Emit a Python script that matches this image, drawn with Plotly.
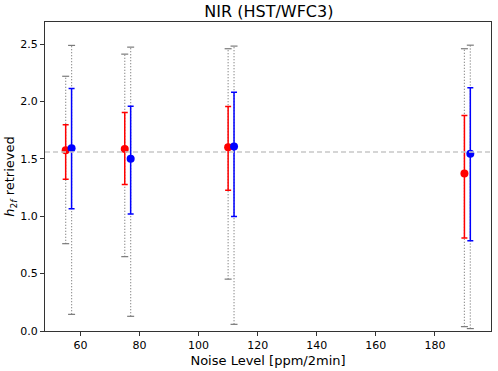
import plotly.graph_objects as go

# noise levels (ppm/2min) for the two retrieval series
x_red = [55, 75, 110, 190]
x_blue = [57, 77, 112, 192]

# retrieved h2f values
y_red = [1.575, 1.586, 1.601, 1.372]
y_blue = [1.592, 1.502, 1.608, 1.545]

# 1-sigma bounds (solid error bars)
red_hi = [1.797, 1.904, 1.956, 1.878]
red_lo = [1.323, 1.276, 1.227, 0.811]
blue_hi = [2.113, 1.959, 2.081, 2.121]
blue_lo = [1.065, 1.019, 0.998, 0.787]

# full range bounds (gray dotted bars)
red_max = [2.220, 2.413, 2.460, 2.460]
red_min = [0.761, 0.648, 0.452, 0.038]
blue_max = [2.489, 2.474, 2.483, 2.491]
blue_min = [0.145, 0.128, 0.058, 0.021]

true_value = 1.56

fig = go.Figure()

# gray dotted range lines + caps
for xs, lo, hi in [(x_red, red_min, red_max), (x_blue, blue_min, blue_max)]:
    lx, ly = [], []
    for x, a, b in zip(xs, lo, hi):
        lx += [x, x, None]
        ly += [a, b, None]
    fig.add_trace(go.Scatter(x=lx, y=ly, mode="lines",
                             line=dict(color="#7a7a7a", width=1.2, dash="1px,2px"),
                             hoverinfo="skip", showlegend=False))
    fig.add_trace(go.Scatter(x=xs + xs, y=lo + hi, mode="markers",
                             marker=dict(symbol="line-ew", size=5,
                                         line=dict(color="#7a7a7a", width=1.2)),
                             hoverinfo="skip", showlegend=False))

# dashed reference line
fig.add_hline(y=true_value, line=dict(color="#c8c8c8", width=1.3, dash="5px,3px"))

for xs, ys, lo, hi, col in [(x_red, y_red, red_lo, red_hi, "red"),
                            (x_blue, y_blue, blue_lo, blue_hi, "blue")]:
    fig.add_trace(go.Scatter(
        x=xs, y=ys, mode="markers",
        marker=dict(color=col, size=8),
        error_y=dict(type="data", symmetric=False,
                     array=[h - y for h, y in zip(hi, ys)],
                     arrayminus=[y - l for l, y in zip(lo, ys)],
                     color=col, thickness=1.5, width=3),
        showlegend=False))

fig.update_layout(
    width=498, height=371,
    margin=dict(l=45, r=6, t=22, b=38),
    paper_bgcolor="white", plot_bgcolor="white",
    font=dict(family="DejaVu Sans", size=11, color="black"),
    title=dict(text="NIR (HST/WFC3)", x=0.54, xanchor="center",
               y=0.968, yanchor="middle",
               font=dict(family="DejaVu Sans", size=16, color="black")),
)
fig.update_xaxes(range=[48, 199], tickvals=[60, 80, 100, 120, 140, 160, 180],
                 ticks="outside", ticklen=4, tickcolor="#333",
                 showline=True, linecolor="#333", mirror=True, showgrid=False,
                 zeroline=False,
                 title=dict(text="Noise Level [ppm/2min]", font=dict(size=13),
                            standoff=4))
fig.update_yaxes(range=[0, 2.693], tickvals=[0, 0.5, 1.0, 1.5, 2.0, 2.5],
                 tickformat=".1f",
                 ticks="outside", ticklen=4, tickcolor="#333",
                 showline=True, linecolor="#333", mirror=True, showgrid=False,
                 zeroline=False,
                 title=dict(text="<i>h</i><sub>2<i>f</i></sub> retrieved",
                            font=dict(size=13), standoff=2))

fig.write_html("out.html", config={"displayModeBar": False},
               post_script="document.body.style.margin='0';")
